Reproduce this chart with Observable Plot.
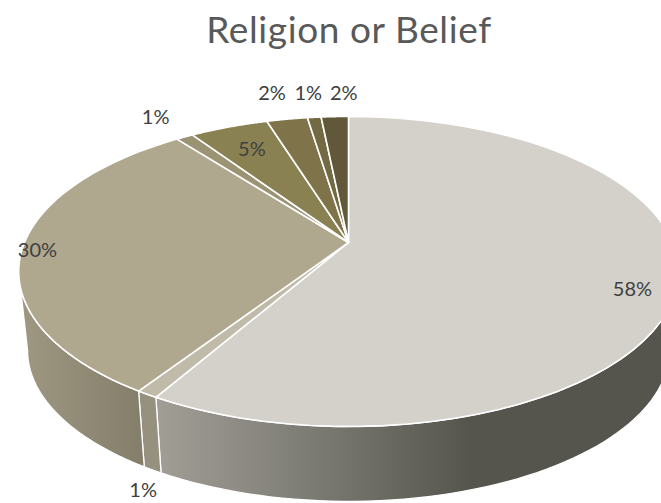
<!DOCTYPE html>
<html><head><meta charset="utf-8">
<script src="https://cdn.jsdelivr.net/npm/d3@7"></script>
<script src="https://cdn.jsdelivr.net/npm/@observablehq/plot@0.6"></script>
<style>
html,body{margin:0;padding:0;background:#fff;overflow:hidden}
#t{height:60px;box-sizing:border-box;padding-left:37px;padding-top:9px;text-align:center;font:37px/40px Lato,sans-serif;letter-spacing:.6px;color:#595959}
</style></head><body>
<div id="t">Religion or Belief</div>
<div id="c"></div>
<script>
const title = "Religion or Belief";
const values = [58.3, 0.9, 30.4, 1.0, 4.6, 2.4, 0.8, 1.6];
const topColors = ["#d3d1c9", "#c0baa9", "#b0a78f", "#9b9373", "#8a8153", "#7f7349", "#736a43", "#605838"];
const labelOffsetX = [-45, -4, 15, -29, 23, -15, -6, 9];
const labelOffsetY = [7, 96, 2, -19, 23, -26, -24, -23];
const wallStops = [
  [[155, "#a19e96"], [300, "#7f7e76"], [470, "#55554e"]],
  [[140, "#96917f"], [155, "#96917f"]],
  [[20, "#9e9883"], [140, "#847e6a"]]
];

// pie projection: a unit disc seen in perspective
const cx = 348, cy = 242, k = 0.187, A = 149.6, B = 324;
const lowerCy = 271, lowerShift = 350, lowerScale = 0.973;
const project = (deg, r = 1) => {
  const t = deg * Math.PI / 180, u = r * Math.sin(t), v = -r * Math.cos(t), w = 1 - k * v;
  return [cx + B * u / w, cy + A * v / w];
};
const lower = ([x, y]) => [cx + (x - cx) * lowerScale, lowerShift + (y - lowerCy) * lowerScale];
const total = d3.sum(values);
let acc = 0;
const slices = values.map((v, i) => {
  const a0 = acc / total * 360; acc += v; const a1 = acc / total * 360;
  return {i, v, a0, a1, mid: (a0 + a1) / 2};
});
const arc = (a0, a1) => d3.range(0, 61).map(j => a0 + (a1 - a0) * j / 60);
const topPoly = s => [project(0, 0), ...arc(s.a0, s.a1).map(a => project(a))];
const visFrom = 100.8, visTo = 259.2;
const wallPoly = s => {
  const a0 = Math.max(s.a0, visFrom), a1 = Math.min(s.a1, visTo);
  if (a1 <= a0) return null;
  const upper = arc(a0, a1).map(a => project(a));
  return [...upper, ...upper.map(lower).reverse()];
};
const labels = slices.map(s => {
  const [x, y] = project(s.mid);
  return {x: x + labelOffsetX[s.i], y: y + labelOffsetY[s.i], text: Math.round(s.v) + "%"};
});

const defs = () => {
  const d = d3.create("svg:defs");
  wallStops.forEach((stops, i) => {
    const g = d.append("linearGradient").attr("id", "wall" + i).attr("gradientUnits", "userSpaceOnUse")
      .attr("x1", stops[0][0]).attr("x2", stops[stops.length - 1][0]).attr("y1", 0).attr("y2", 0);
    stops.forEach(([x, c]) => g.append("stop").attr("offset", (x - stops[0][0]) / (stops[stops.length - 1][0] - stops[0][0])).attr("stop-color", c));
  });
  return d.node();
};

const poly = (pts, fill, strokeWidth) => Plot.line(pts, {
  x: d => d[0], y: d => d[1], curve: "linear-closed", fill, stroke: "white", strokeWidth, strokeLinejoin: "round"
});

const chart = Plot.plot({
  width: 661, height: 443, margin: 0,
  x: {domain: [0, 661], range: [0, 661], axis: null},
  y: {domain: [60, 503], range: [0, 443], axis: null},
  style: {background: "transparent", fontFamily: "Lato, sans-serif"},
  marks: [
    defs,
    ...slices.slice(0, 3).map(s => poly(wallPoly(s), "url(#wall" + s.i + ")", 1.3)),
    ...slices.map(s => poly(topPoly(s), topColors[s.i], 1.6)),
    Plot.text(labels, {x: "x", y: "y", text: "text", fontSize: 20, fill: "#404040"})
  ]
});
document.getElementById("c").appendChild(chart);
</script>
</body></html>
